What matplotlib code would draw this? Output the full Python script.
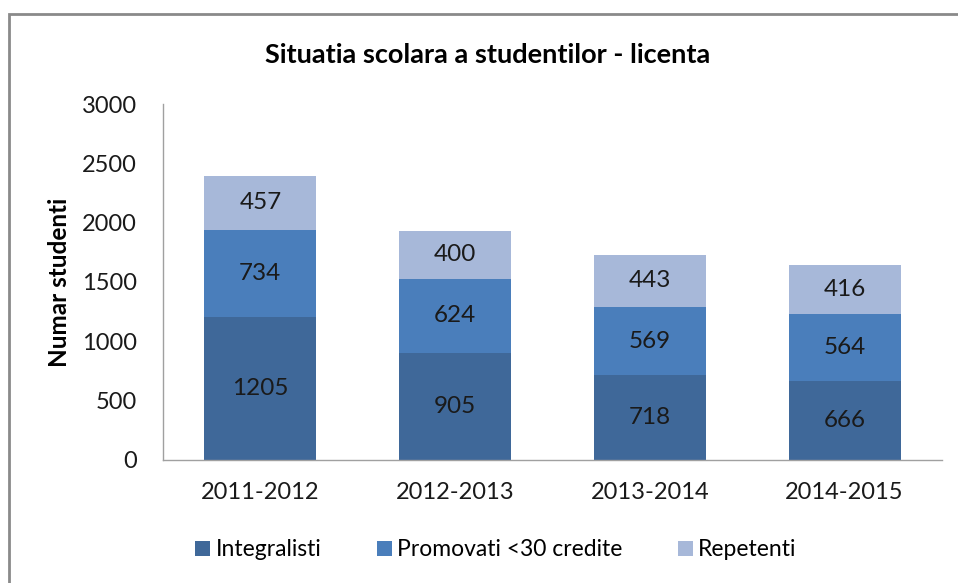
import matplotlib
matplotlib.use("Agg")
import matplotlib.pyplot as plt
from matplotlib.patches import Rectangle
import numpy as np

plt.rcParams['font.family'] = ['Lato', 'DejaVu Sans']

years = ["2011-2012", "2012-2013", "2013-2014", "2014-2015"]
integralisti = [1205, 905, 718, 666]
promovati = [734, 624, 569, 564]
repetenti = [457, 400, 443, 416]

series = [
    ("Integralisti", integralisti, "#3F6899"),
    ("Promovati <30 credite", promovati, "#4A7EBB"),
    ("Repetenti", repetenti, "#A7B8D9"),
]

fig = plt.figure(figsize=(9.58, 5.83), dpi=100)
ax = fig.add_axes([163 / 958, 1 - 460 / 583, 779 / 958, 356 / 583])

x = np.arange(len(years))
bottom = np.zeros(len(years))
for name, vals, color in series:
    bars = ax.bar(x, vals, width=0.575, bottom=bottom, color=color, label=name)
    for rect, v in zip(bars, vals):
        ax.text(rect.get_x() + rect.get_width() / 2, rect.get_y() + v / 2, str(v),
                ha="center", va="center", fontsize=17.5, color="#1a1a1a")
    bottom += np.array(vals)

ax.set_xlim(-0.5, len(years) - 0.5)
ax.set_ylim(0, 3000)
ax.set_yticks(range(0, 3001, 500))
ax.set_xticks(x)
ax.set_xticklabels(years)
ax.tick_params(length=0, labelsize=17, colors="#1a1a1a")
ax.tick_params(axis="y", pad=19)
ax.tick_params(axis="x", pad=16)
for s in ["top", "right"]:
    ax.spines[s].set_visible(False)
for s in ["left", "bottom"]:
    ax.spines[s].set_color("#a0a0a0")
    ax.spines[s].set_linewidth(1)

ax.set_ylabel("Numar studenti", fontsize=17.5, fontweight="bold")
ax.yaxis.set_label_coords(-0.118, 0.5)
fig.text(488 / 958, 1 - 55 / 583, "Situatia scolara a studentilor - licenta",
         ha="center", va="center", fontsize=19.5, fontweight="bold")

fig.legend(loc="center", bbox_to_anchor=(496 / 958, 1 - 550 / 583), ncol=3,
           frameon=False, fontsize=16.5, handlelength=0.65, handleheight=0.65,
           handletextpad=0.25, columnspacing=2.4)

# outer chart frame
fig.patches.append(Rectangle((8.5 / 958, -0.1), 1.2, 1 - 13.5 / 583 + 0.1,
                             transform=fig.transFigure, fill=False,
                             edgecolor="#8a8a8a", linewidth=2))

fig.savefig("out.png", dpi=100)
